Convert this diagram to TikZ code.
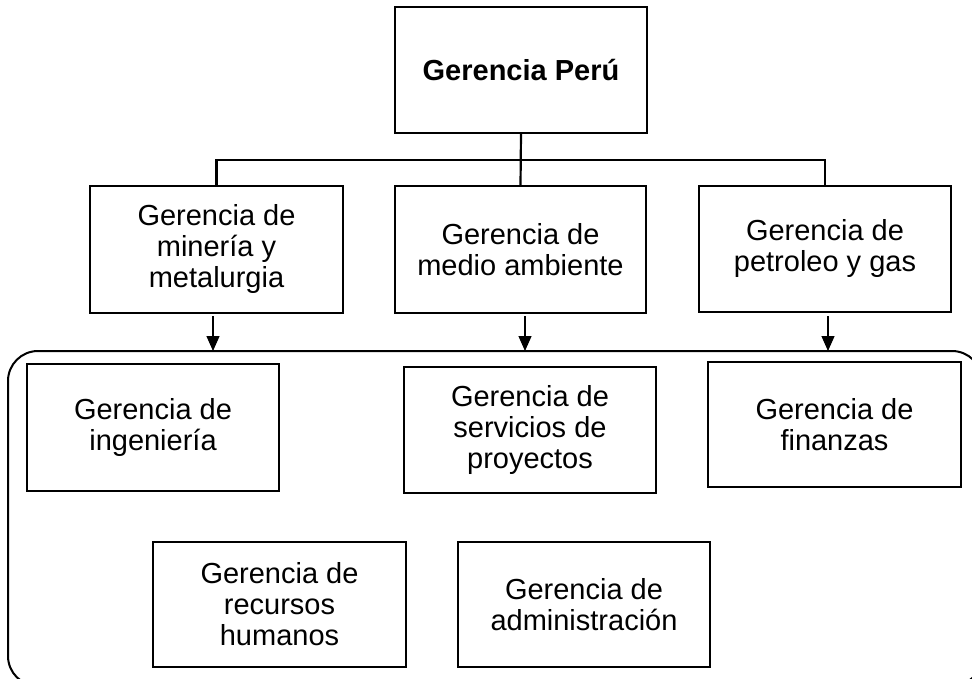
\documentclass[tikz,border=0pt]{standalone}
\usepackage{fontspec}
\setmainfont{Liberation Sans}
\usetikzlibrary{arrows.meta}
\begin{document}
\begin{tikzpicture}[x=1pt,y=-1pt,
  orgbox/.style={draw, line width=2.4pt, align=center, inner sep=0pt, outer sep=0pt,
    font=\fontsize{29}{31}\selectfont},
  link/.style={line width=2.2pt},
  downarrow/.style={line width=1.3pt, -{Triangle[length=15pt,width=13pt]}},
  group/.style={draw, line width=2pt, rounded corners=30pt, inner sep=0pt, outer sep=0pt}]
\useasboundingbox (0,0) rectangle (972,679);
\clip (0,0) rectangle (972,679);
% top
\node[orgbox, minimum width=252pt, minimum height=126pt, font=\fontsize{29}{31}\selectfont\bfseries] (top) at (521,70) {Gerencia Perú};
% middle row
\node[orgbox, minimum width=253pt, minimum height=127pt] (m1) at (216.5,249.5) {Gerencia de\\minería y\\metalurgia};
\node[orgbox, minimum width=251pt, minimum height=127pt] (m2) at (520.5,249.5) {Gerencia de\\medio ambiente};
\node[orgbox, minimum width=252pt, minimum height=126pt] (m3) at (825,249) {Gerencia de\\petroleo y gas};
% group
\node[group, minimum width=974pt, minimum height=335pt] (grp) at (495,518.5) {};
% inner boxes
\node[orgbox, minimum width=252pt, minimum height=127pt] (i1) at (153,427.5) {Gerencia de\\ingeniería};
\node[orgbox, minimum width=252pt, minimum height=126pt] (i2) at (530,430) {Gerencia de\\servicios de\\proyectos};
\node[orgbox, minimum width=253pt, minimum height=125pt] (i3) at (834.5,424.5) {Gerencia de\\finanzas};
\node[orgbox, minimum width=253pt, minimum height=125pt] (b1) at (279.5,604.5) {Gerencia de\\recursos\\humanos};
\node[orgbox, minimum width=252pt, minimum height=125pt] (b2) at (584,604.5) {Gerencia de\\administración};
% connectors
\coordinate (bus) at (521,160);
\draw[link] (top.south) -- (m2.north);
\draw[link] (m1.north) |- (bus) -| (m3.north);
% arrows
\coordinate (a1) at (213,316);
\coordinate (a2) at (525,316);
\coordinate (a3) at (828,316);
\draw[downarrow] (a1) -- (a1 |- grp.north);
\draw[downarrow] (a2) -- (a2 |- grp.north);
\draw[downarrow] (a3) -- (a3 |- grp.north);
\end{tikzpicture}
\end{document}
